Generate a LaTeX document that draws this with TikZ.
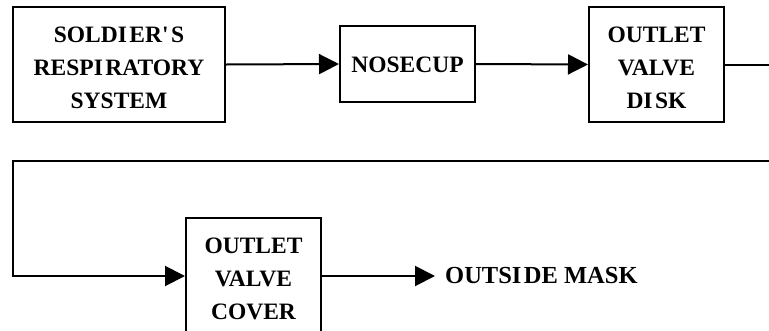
\documentclass[tikz,border=0pt]{standalone}
\usepackage{fontspec}
\setmainfont{Liberation Serif}
\usetikzlibrary{arrows.meta}
\newcommand\gI{I\hspace{2.5pt}}
\newcommand\gA{\textquotesingle\hspace{2.5pt}}
\begin{document}
\begin{tikzpicture}[x=1pt,y=-1pt,
  lab/.style={inner sep=0pt,align=center,font=\fontsize{23.5}{33}\selectfont\bfseries},
  box/.style={draw,line width=2pt,inner sep=0pt},
  conn/.style={line width=2pt},
  arr/.style={conn,-{Triangle[length=20pt,width=20pt]}}]
\useasboundingbox (0,0) rectangle (769,330);
\node[box,minimum width=212pt,minimum height=115pt,
  label={[lab,yshift=-3pt]center:SOLD\gI ER\gA S\\RESP\gI RATORY\\SYSTEM}] (sys) at (119,64.5) {};
\node[box,minimum width=135pt,minimum height=76pt,
  label={[lab,yshift=-1pt]center:NOSECUP}] (nose) at (407.5,64) {};
\node[box,minimum width=135pt,minimum height=115pt,
  label={[lab,yshift=-3pt]center:OUTLET\\VALVE\\D\gI SK}] (disk) at (656.5,64.5) {};
\node[box,minimum width=135pt,minimum height=116pt,
  label={[lab,yshift=-3pt]center:OUTLET\\VALVE\\COVER}] (cover) at (253.5,276) {};
\node[lab,font=\fontsize{24.5}{33}\selectfont\bfseries,anchor=west,inner xsep=10pt] (out) at (435,276) {OUTS\gI DE MASK};
\coordinate (r1) at (790,64.5);
\coordinate (r2) at (790,160.5);
\coordinate (l1) at (13,160.5);
\coordinate (l2) at (13,276);
\draw[arr] (sys.east) -- (nose.west);
\draw[arr] (nose.east) -- (disk.west);
\draw[arr] (disk.east) -- (r1) -- (r2) -- (l1) -- (l2) -- (cover.west);
\draw[arr] (cover.east) -- (out.west);
\end{tikzpicture}
\end{document}
